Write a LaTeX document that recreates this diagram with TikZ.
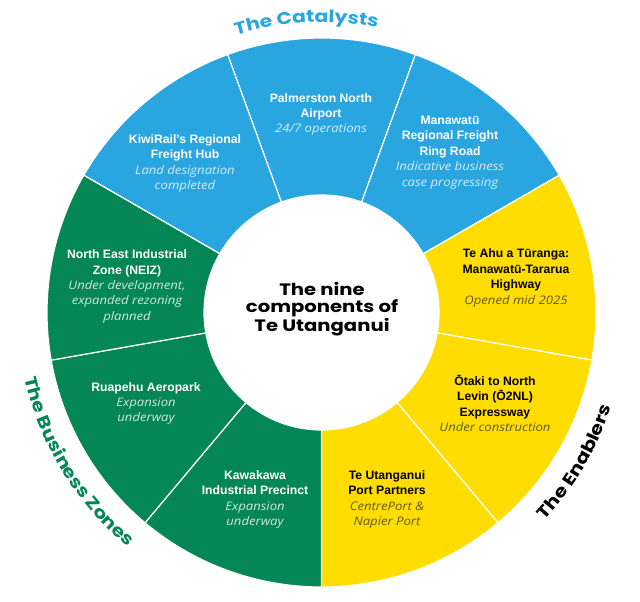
\documentclass[tikz,border=0pt]{standalone}
\usepackage{fontspec}
\usepackage{xcolor}
\usepackage{tikz}
\usetikzlibrary{decorations.text}
\setmainfont{Liberation Sans}
\newfontfamily\headfont{Poppins}[FakeStretch=1.19]
\newfontfamily\notefont{Open Sans}[FakeStretch=1.11]
\definecolor{catblue}{HTML}{29A6E0}
\definecolor{enyellow}{HTML}{FFDD00}
\definecolor{zonegreen}{HTML}{058657}
\definecolor{catnote}{HTML}{D5ECF8}
\definecolor{ennote}{HTML}{5F5A1E}
\definecolor{zonenote}{HTML}{CFE6DC}
\newcommand{\note}[2]{{\notefont\mdseries\itshape\fontsize{11.8}{15.4}\selectfont\color{#1}#2}}
\tikzset{
  wedge/.style={draw=white,line width=1.2pt},
  item/.style={align=center,inner sep=0pt,font=\fontsize{12.2}{15.4}\selectfont\bfseries},
  head/.style 2 args={decorate,decoration={text along path,text align=center,text color=#2,
     text={|\headfont\fontsize{17}{17}\selectfont\bfseries|#1}}},
}
\begin{document}
\begin{tikzpicture}[x=1pt,y=1pt]
\useasboundingbox (0,0) rectangle (640,-602);
\begin{scope}[shift={(321.5,-312.5)}]
\filldraw[wedge,fill=catblue] (110:117.5) -- (110:274.5) arc (110:70:274.5) -- (70:117.5) arc (70:110:117.5) -- cycle;
\filldraw[wedge,fill=catblue] (70:117.5) -- (70:274.5) arc (70:30:274.5) -- (30:117.5) arc (30:70:117.5) -- cycle;
\filldraw[wedge,fill=catblue] (150:117.5) -- (150:274.5) arc (150:110:274.5) -- (110:117.5) arc (110:150:117.5) -- cycle;
\filldraw[wedge,fill=enyellow] (30:117.5) -- (30:274.5) arc (30:-10:274.5) -- (-10:117.5) arc (-10:30:117.5) -- cycle;
\filldraw[wedge,fill=enyellow] (-10:117.5) -- (-10:274.5) arc (-10:-50:274.5) -- (-50:117.5) arc (-50:-10:117.5) -- cycle;
\filldraw[wedge,fill=enyellow] (-50:117.5) -- (-50:274.5) arc (-50:-90:274.5) -- (-90:117.5) arc (-90:-50:117.5) -- cycle;
\filldraw[wedge,fill=zonegreen] (-90:117.5) -- (-90:274.5) arc (-90:-130:274.5) -- (-130:117.5) arc (-130:-90:117.5) -- cycle;
\filldraw[wedge,fill=zonegreen] (-130:117.5) -- (-130:274.5) arc (-130:-170:274.5) -- (-170:117.5) arc (-170:-130:117.5) -- cycle;
\filldraw[wedge,fill=zonegreen] (-170:117.5) -- (-170:274.5) arc (-170:-210:274.5) -- (-210:117.5) arc (-210:-170:117.5) -- cycle;

\path[head={The Catalysts}{catblue}] (153:290) arc (153:33:290);
\path[head={The Enablers}{black}] (-70.5:305) arc (-70.5:9.5:305);
\path[head={The Business Zones}{zonegreen}] (171.5:304) arc (171.5:251.5:304);
\end{scope}

\node [item,white] (airport) at (321,-114.5) {Palmerston North\\Airport\\\note{catnote}{24/7 operations}};
\node [item,white] (ringroad) at (450,-152.5) {Manawatū\\Regional Freight\\Ring Road\\\note{catnote}{Indicative business}\\\note{catnote}{case progressing}};
\node [item,white] (hub) at (185,-163.5) {KiwiRail's Regional\\Freight Hub\\\note{catnote}{Land designation}\\\note{catnote}{completed}};
\node [item,black] (highway) at (516,-278) {Te Ahu a Tūranga:\\Manawatū-Tararua\\Highway\\\note{ennote}{Opened mid 2025}};
\node [item,black] (expressway) at (495,-403.5) {Ōtaki to North\\Levin (Ō2NL)\\Expressway\\\note{ennote}{Under construction}};
\node [item,black] (port) at (387,-499.5) {Te Utanganui\\Port Partners\\\note{ennote}{CentrePort \&}\\\note{ennote}{Napier Port}};
\node [item,white] (precinct) at (255,-499.5) {Kawakawa\\Industrial Precinct\\\note{zonenote}{Expansion}\\\note{zonenote}{underway}};
\node [item,white] (aeropark) at (146,-403.5) {Ruapehu Aeropark\\\note{zonenote}{Expansion}\\\note{zonenote}{underway}};
\node [item,white] (neiz) at (127,-286.5) {North East Industrial\\Zone (NEIZ)\\\note{zonenote}{Under development,}\\\note{zonenote}{expanded rezoning}\\\note{zonenote}{planned}};
\node [align=center,inner sep=0pt,font=\headfont\fontsize{16.5}{17.6}\selectfont\bfseries] (hub centre) at (322,-309) {The nine\\components of\\Te Utanganui};
\end{tikzpicture}
\end{document}
